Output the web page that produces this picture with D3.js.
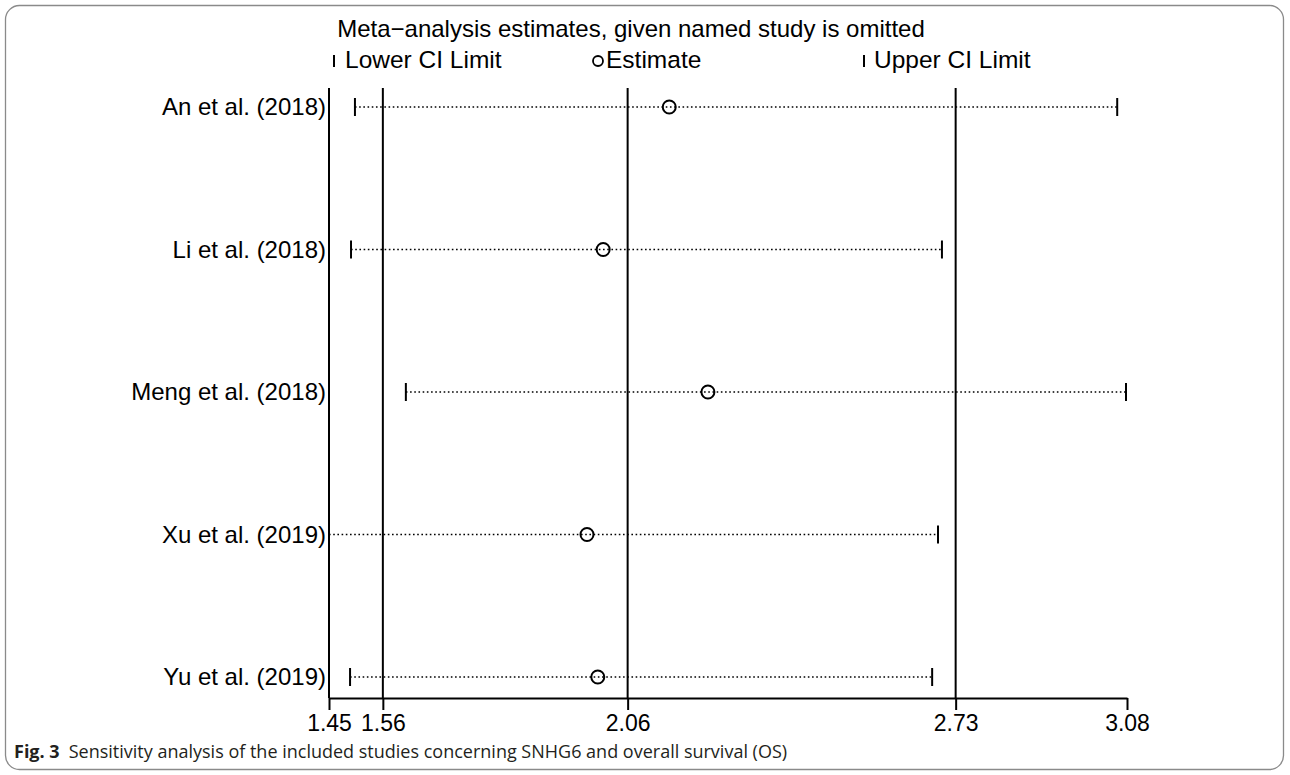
<!DOCTYPE html>
<html>
<head>
<meta charset="utf-8">
<script src="https://cdn.jsdelivr.net/npm/d3@7"></script>
<style>
  html, body { margin: 0; padding: 0; background: #fff; }
  svg { display: block; }
  .lbl { font-family: "Liberation Sans", Arial, sans-serif; fill: #000; }
</style>
</head>
<body>
<svg id="canvas" width="1290" height="775"></svg>
<script>
// study names and the leave-one-out estimates
const studies = ["An et al. (2018)", "Li et al. (2018)", "Meng et al. (2018)", "Xu et al. (2019)", "Yu et al. (2019)"];
const lowerCI = [1.503, 1.495, 1.607, 1.45, 1.493];
const estimate = [2.145, 2.010, 2.224, 1.977, 1.999];
const upperCI = [3.060, 2.702, 3.078, 2.694, 2.682];

// overall estimate lines and axis ticks
const refLines = [1.45, 1.56, 2.06, 2.73];
const tickVals = [1.45, 1.56, 2.06, 2.73, 3.08];

const rows = studies.map((s, i) => ({name: s, lo: lowerCI[i], est: estimate[i], hi: upperCI[i]}));

const svg = d3.select('#canvas');
const fontSize = 24;

// rounded frame round the figure
svg.append('rect')
   .attr('x', 5.5).attr('y', 5.5)
   .attr('width', 1278).attr('height', 764)
   .attr('rx', 14)
   .attr('fill', 'none')
   .attr('stroke', '#8a8a8a')
   .attr('stroke-width', 1.3);

let x = d3.scaleLinear().domain([1.45, 3.08]).range([329, 1127]);
let y = d3.scalePoint().domain(studies).range([107, 677]);
const axisY = 698, plotTop = 88;

// title and legend
svg.append('text').attr('class', 'lbl')
   .attr('x', 631).attr('y', 37)
   .attr('text-anchor', 'middle')
   .attr('font-size', fontSize)
   .text('Meta\u2212analysis estimates, given named study is omitted');

const legend = svg.append('g');
legend.append('line').attr('x1', 334).attr('x2', 334).attr('y1', 55).attr('y2', 67)
      .attr('stroke', '#000').attr('stroke-width', 2);
legend.append('text').attr('class', 'lbl').attr('x', 345).attr('y', 68)
      .attr('font-size', 24.5).text('Lower CI Limit');
legend.append('circle').attr('cx', 598).attr('cy', 61).attr('r', 5)
      .attr('fill', 'none').attr('stroke', '#000').attr('stroke-width', 1.8);
legend.append('text').attr('class', 'lbl').attr('x', 606).attr('y', 68)
      .attr('font-size', 24.5).text('Estimate');
legend.append('line').attr('x1', 864).attr('x2', 864).attr('y1', 55).attr('y2', 67)
      .attr('stroke', '#000').attr('stroke-width', 2);
legend.append('text').attr('class', 'lbl').attr('x', 874).attr('y', 68)
      .attr('font-size', 24.5).text('Upper CI Limit');

// vertical lines: axis minimum plus overall lower / estimate / upper
svg.append('g').selectAll('line').data(refLines).enter()
   .append('line')
   .attr('x1', d => x(d)).attr('x2', d => x(d))
   .attr('y1', plotTop).attr('y2', axisY)
   .attr('stroke', '#000').attr('stroke-width', 2);

// x axis
const axis = svg.append('g')
   .attr('transform', `translate(0,${axisY})`)
   .call(d3.axisBottom(x).tickValues(tickVals).tickFormat(d3.format('.2f'))
           .tickSizeInner(12).tickSizeOuter(0).tickPadding(5));
axis.select('.domain').attr('stroke', '#000').attr('stroke-width', 2);
axis.selectAll('.tick line').attr('stroke', '#000').attr('stroke-width', 2);
axis.selectAll('.tick text')
    .attr('font-family', '"Liberation Sans", Arial, sans-serif')
    .attr('font-size', 23).attr('fill', '#000');

// study rows
const g = svg.append('g').selectAll('g').data(rows).enter().append('g');

g.append('text').attr('class', 'lbl')
 .attr('x', 326).attr('y', d => y(d.name))
 .attr('dy', '0.35em')
 .attr('text-anchor', 'end')
 .attr('font-size', fontSize)
 .text(d => d.name);

g.append('line')
 .attr('x1', d => x(d.lo)).attr('x2', d => x(d.hi))
 .attr('y1', d => y(d.name)).attr('y2', d => y(d.name))
 .attr('stroke', '#000').attr('stroke-width', 1.6)
 .attr('stroke-dasharray', '1.6,2.6');

g.append('line')
 .attr('x1', d => x(d.lo)).attr('x2', d => x(d.lo))
 .attr('y1', d => y(d.name) - 9).attr('y2', d => y(d.name) + 9)
 .attr('stroke', '#000').attr('stroke-width', 2);

g.append('line')
 .attr('x1', d => x(d.hi)).attr('x2', d => x(d.hi))
 .attr('y1', d => y(d.name) - 9).attr('y2', d => y(d.name) + 9)
 .attr('stroke', '#000').attr('stroke-width', 2);

g.append('circle')
 .attr('cx', d => x(d.est)).attr('cy', d => y(d.name))
 .attr('r', 6.5)
 .attr('fill', 'none').attr('stroke', '#000').attr('stroke-width', 2);

// caption
const cap = svg.append('text')
   .attr('x', 14).attr('y', 758)
   .attr('font-family', '"Open Sans", "Noto Sans", sans-serif')
   .attr('font-size', 18)
   .attr('fill', '#231f20');
cap.append('tspan').attr('font-weight', 'bold').text('Fig. 3');
cap.append('tspan').attr('dx', 9).text('Sensitivity analysis of the included studies concerning SNHG6 and overall survival (OS)');
</script>
</body>
</html>
